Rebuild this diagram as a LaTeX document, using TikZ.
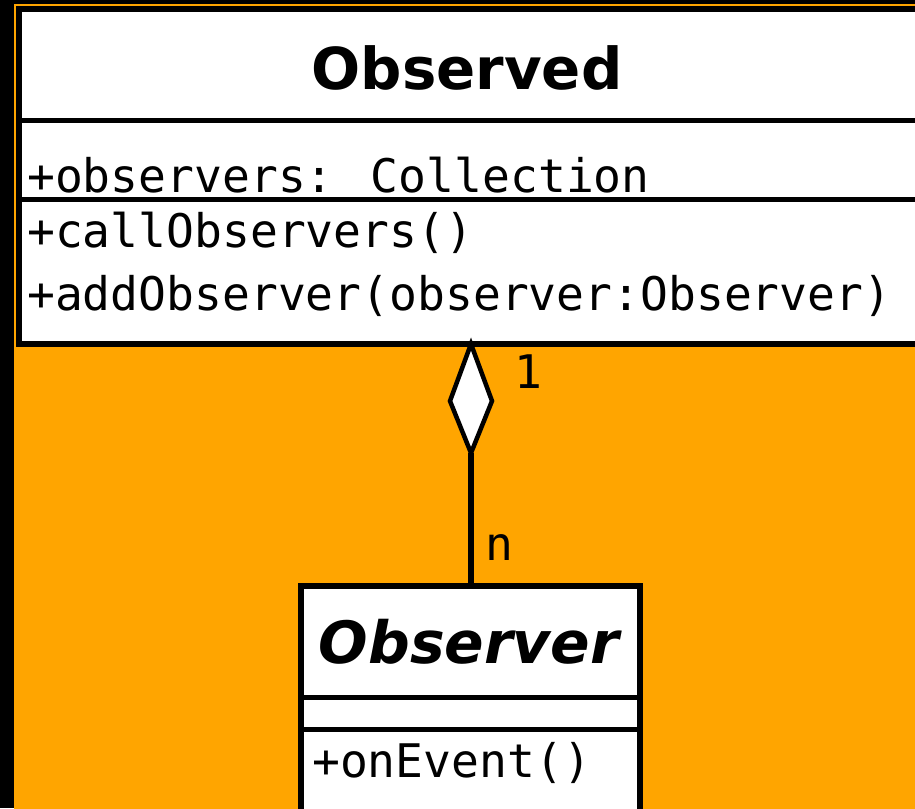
\documentclass[tikz,border=0pt]{standalone}
\usepackage{fontspec}
\newfontfamily\monof{DejaVu Sans Mono}
\newfontfamily\titlef{DejaVu Sans}
\definecolor{bgorange}{HTML}{FFA500}
\begin{document}
\begin{tikzpicture}[x=1pt,y=-1pt,
  umlbox/.style={draw=black,fill=white,line width=6pt,rectangle,inner sep=0pt,outer sep=0pt,anchor=north west},
  divider/.style={line width=5pt},
  mono/.style={font=\monof\fontsize{46.3}{50}\selectfont,inner sep=0pt,anchor=base west},
  conn/.style={line width=5.5pt},
  diam/.style={line width=4.5pt,fill=white,line join=miter}]
\useasboundingbox (0,0) rectangle (915,808);
\clip (0,0) rectangle (915,808);
\fill[black] (0,0) rectangle (915,808);
\fill[bgorange] (14,4) rectangle (930,830);
% Observed class
\node[umlbox,minimum width=920pt,minimum height=335pt] (observed) at (19,9) {};
\draw[divider] (19,120) -- (940,120);
\draw[divider] (19,199) -- (940,199);
\node[font=\titlef\bfseries\fontsize{57.8}{60}\selectfont,inner sep=0pt,anchor=base] (obtitle) at (467,89) {Observed};
\node[mono] (attr1) at (27,192) {+observers: Collection};
\node[mono] (op1) at (27,247) {+callObservers()};
\node[mono] (op2) at (27,310) {+addObserver(observer:Observer)};
% Observer class
\node[umlbox,minimum width=339pt,minimum height=250pt] (observer) at (301,586) {};
\draw[divider] (301,697) -- (640,697);
\draw[divider] (301,729) -- (640,729);
\node[font=\titlef\bfseries\itshape\fontsize{58.3}{60}\selectfont,inner sep=0pt,anchor=base] (obstitle) at (469,663) {Observer};
\node[mono] (op3) at (312,777) {+onEvent()};
% aggregation
\coordinate (dtop) at (471,344);
\coordinate (dright) at (492,401);
\coordinate (dbot) at (471,453);
\coordinate (dleft) at (450,401);
\draw[conn] (observer.north -| dtop) -- (dbot);
\draw[diam] (dtop) -- (dright) -- (dbot) -- (dleft) -- cycle;
\node[mono] (m1) at (514,388) {1};
\node[mono] (mn) at (485,560) {n};
\end{tikzpicture}
\end{document}
